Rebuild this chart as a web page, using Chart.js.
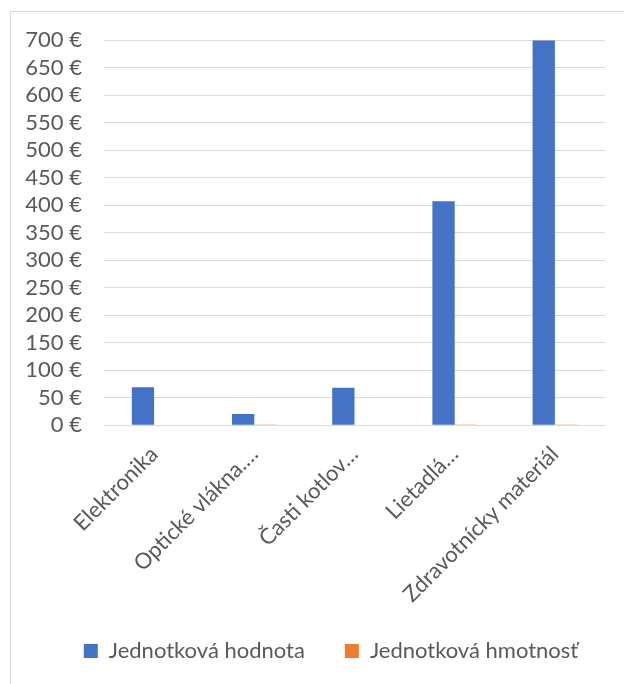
<!DOCTYPE html>
<html>
<head>
<meta charset="utf-8">
<script src="https://cdn.jsdelivr.net/npm/chart.js@4/dist/chart.umd.min.js"></script>
<style>
	html, body { margin: 0; padding: 0; background: #ffffff; overflow: hidden; }
	#frame {
		position: absolute; left: 10px; top: 11px;
		width: 700px; height: 700px;
		border: 1px solid #d9d9d9;
		background: #ffffff;
	}
	#chart { position: absolute; left: 0; top: 0; }
</style>
</head>
<body>
<div id="frame"><canvas id="chart" width="640" height="690"></canvas></div>
<script>
// chart data
var categories = ["Elektronika", "Optické vlákna.…", "Časti kotlov…", "Lietadlá…", "Zdravotnícky materiál"];
var unitValue = [69, 20.5, 68, 407, 699];
var unitWeight = [0.9, 0.5, 0.8, 0.7, 0.4];
var seriesNames = ["Jednotková hodnota", "Jednotková hmotnosť"];
var yTicks = [0, 50, 100, 150, 200, 250, 300, 350, 400, 450, 500, 550, 600, 650, 700];

var textColor = "#595959";
var gridColor = "#d9d9d9";
var fontFamily = "Lato, 'Open Sans', sans-serif";

var ctx = document.getElementById("chart").getContext("2d");

var chart = new Chart(ctx, {
	type: "bar",
	data: {
		labels: categories,
		datasets: [
			{ label: seriesNames[0], data: unitValue, backgroundColor: "#4472c4", borderWidth: 0 },
			{ label: seriesNames[1], data: unitWeight, backgroundColor: "#ed7d31", borderWidth: 0 }
		]
	},
	options: {
		responsive: false,
		animation: false,
		layout: { padding: { top: 28, right: 0, bottom: 30, left: 0 } },
		datasets: { bar: { categoryPercentage: 0.445, barPercentage: 1 } },
		plugins: {
			tooltip: { enabled: false },
			legend: {
				position: "bottom",
				labels: {
					boxWidth: 14,
					boxHeight: 14,
					padding: 40,
					color: textColor,
					font: { family: fontFamily, size: 22 }
				}
			}
		},
		scales: {
			x: {
				grid: { display: false },
				border: { display: false },
				ticks: {
					minRotation: 45,
					maxRotation: 45,
					autoSkip: false,
					padding: 8,
					color: textColor,
					font: { family: fontFamily, size: 22 }
				},
				// fixed height so the plot and legend land where they are in the picture
				afterFit: function(scale) {
					scale.height = 174.7;
					// long rotated labels may run past the axis box, don't cut them
					scale._computeLabelArea = function() { return null; };
				}
			},
			y: {
				min: 0,
				max: 700,
				afterBuildTicks: function(scale) {
					scale.ticks = yTicks.map(function(v) { return { value: v }; });
				},
				grid: { color: gridColor, lineWidth: 1, drawTicks: false },
				border: { display: false },
				ticks: {
					autoSkip: false,
					padding: 22,
					color: textColor,
					font: { family: fontFamily, size: 22 },
					callback: function(v) { return v + " €"; }
				},
				afterFit: function(scale) {
					scale.width = 93;
					scale.paddingTop = 0;
					scale.paddingBottom = 0;
				}
			},
			// empty strip on the right, keeps the plot narrower than the legend row
			side: {
				type: "linear",
				position: "right",
				grid: { display: false },
				border: { display: false },
				ticks: { display: false },
				afterFit: function(scale) {
					scale.width = 46;
					scale.paddingTop = 0;
					scale.paddingBottom = 0;
				}
			}
		}
	}
});
</script>
</body>
</html>
